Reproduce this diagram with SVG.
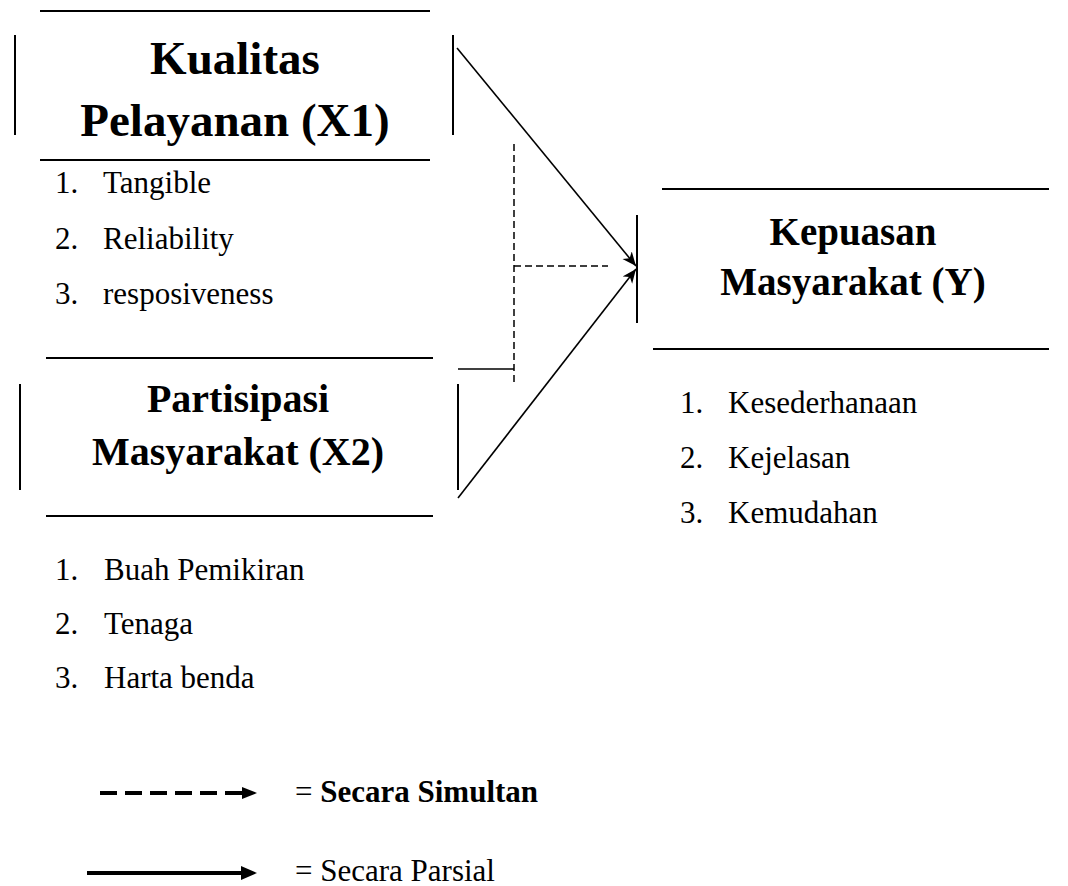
<svg xmlns="http://www.w3.org/2000/svg" width="1068" height="886" viewBox="0 0 1068 886" font-family="'Liberation Serif', Tinos, 'Times New Roman', 'DejaVu Serif', serif">
<style>
  .frame { stroke: #000; stroke-width: 2; fill: none; }
  .conn { stroke: #000; stroke-width: 1.6; fill: none; }
  .dash { stroke: #000; stroke-width: 1.5; fill: none; stroke-dasharray: 7 4; }
  text { font-family: 'Liberation Serif', Tinos, 'Times New Roman', 'DejaVu Serif', serif; fill: #000; }
  .title { font-weight: bold; text-anchor: middle; }
  .item { font-size: 31px; }
  .legend { font-size: 31px; }
</style>
<defs>
  <marker id="ah" markerUnits="userSpaceOnUse" markerWidth="15" markerHeight="13" refX="14" refY="6.5" orient="auto">
    <path d="M0,0.5 L14,6.5 L0,12.5 L4,6.5 Z" fill="#000"/>
  </marker>
</defs>

<g id="node-x1">
  <line class="frame" x1="40" y1="11" x2="430" y2="11"/>
  <line class="frame" x1="40" y1="160" x2="430" y2="160"/>
  <line class="frame" x1="15" y1="35" x2="15" y2="135"/>
  <line class="frame" x1="453" y1="35" x2="453" y2="135"/>
  <text class="title" x="235" y="74" font-size="47">Kualitas</text>
  <text class="title" x="235" y="136" font-size="47">Pelayanan (X1)</text>
  <text class="item" x="55" y="193">1.</text><text class="item" x="103" y="193">Tangible</text>
  <text class="item" x="55" y="249">2.</text><text class="item" x="103" y="249">Reliability</text>
  <text class="item" x="55" y="304">3.</text><text class="item" x="103" y="304">resposiveness</text>
</g>

<g id="node-x2">
  <line class="frame" x1="46" y1="358" x2="433" y2="358"/>
  <line class="frame" x1="46" y1="516" x2="433" y2="516"/>
  <line class="frame" x1="20" y1="384" x2="20" y2="490"/>
  <line class="frame" x1="458" y1="384" x2="458" y2="490"/>
  <text class="title" x="238" y="412" font-size="40">Partisipasi</text>
  <text class="title" x="238" y="465" font-size="40">Masyarakat (X2)</text>
  <text class="item" x="55" y="580">1.</text><text class="item" x="104" y="580">Buah Pemikiran</text>
  <text class="item" x="55" y="634">2.</text><text class="item" x="104" y="634">Tenaga</text>
  <text class="item" x="55" y="688">3.</text><text class="item" x="104" y="688">Harta benda</text>
</g>

<g id="node-y">
  <line class="frame" x1="662" y1="189" x2="1049" y2="189"/>
  <line class="frame" x1="653" y1="349" x2="1049" y2="349"/>
  <line class="frame" x1="637" y1="215" x2="637" y2="323"/>
  <text class="title" x="853" y="245" font-size="39">Kepuasan</text>
  <text class="title" x="853" y="295" font-size="39">Masyarakat (Y)</text>
  <text class="item" x="680" y="413">1.</text><text class="item" x="728" y="413">Kesederhanaan</text>
  <text class="item" x="680" y="468">2.</text><text class="item" x="728" y="468">Kejelasan</text>
  <text class="item" x="680" y="523">3.</text><text class="item" x="728" y="523">Kemudahan</text>
</g>

<g id="connectors">
  <line class="conn" x1="457" y1="48" x2="636" y2="266" marker-end="url(#ah)"/>
  <line class="conn" x1="458" y1="498" x2="636" y2="269" marker-end="url(#ah)"/>
  <line class="dash" x1="514" y1="144" x2="514" y2="385"/>
  <line class="dash" x1="514" y1="266" x2="608" y2="266"/>
  <line class="conn" x1="458" y1="369" x2="514" y2="369" stroke-width="1.3"/>
</g>

<g id="legend">
  <line x1="100" y1="793" x2="243" y2="793" stroke="#000" stroke-width="4" stroke-dasharray="17 8"/>
  <path d="M242,787 L257,793 L242,799 Z" fill="#000"/>
  <text class="legend" x="295" y="802">= <tspan font-weight="bold">Secara Simultan</tspan></text>
  <line x1="87" y1="873" x2="243" y2="873" stroke="#000" stroke-width="4"/>
  <path d="M241,866 L257,873 L241,880 Z" fill="#000"/>
  <text class="legend" x="295" y="881">= Secara Parsial</text>
</g>
</svg>
